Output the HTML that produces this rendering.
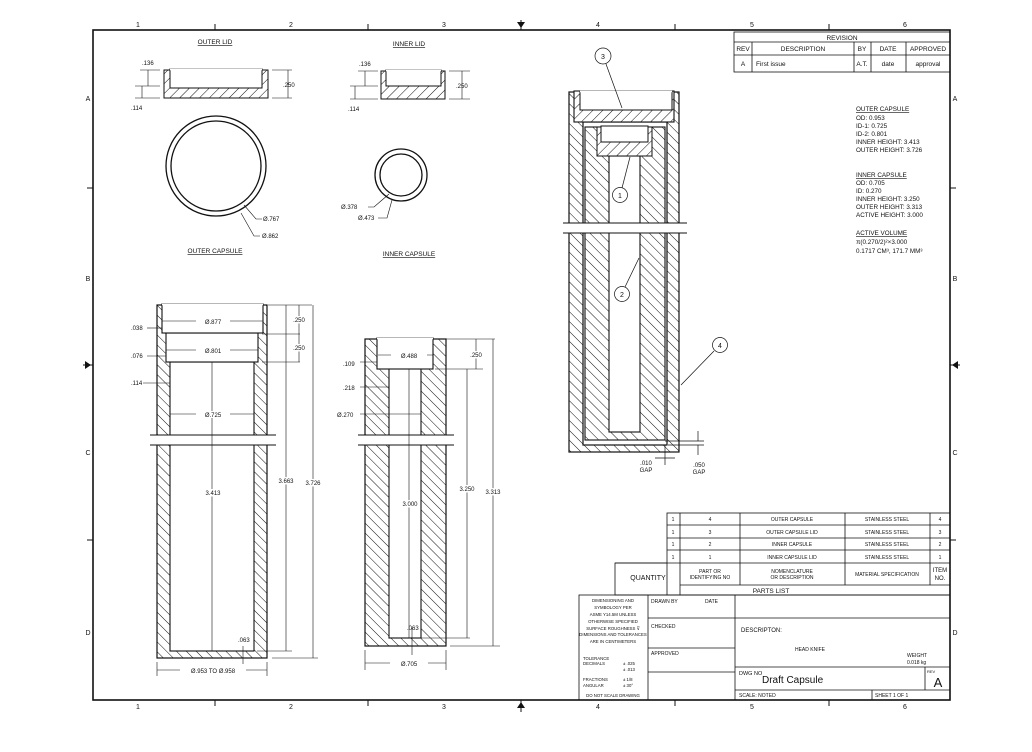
<!DOCTYPE html>
<html><head><meta charset="utf-8"><style>
body{margin:0;background:#fff}
svg{display:block}
text{font-family:"Liberation Sans",sans-serif;fill:#111}
</style></head><body>
<svg width="1032" height="752" viewBox="0 0 1032 752" xmlns="http://www.w3.org/2000/svg">
<defs>
<pattern id="hf" width="7" height="7" patternUnits="userSpaceOnUse" patternTransform="rotate(45)"><rect width="7" height="7" fill="#fff"/><line x1="0" y1="0" x2="0" y2="7" stroke="#111" stroke-width="1"/></pattern>
<pattern id="hb" width="7" height="7" patternUnits="userSpaceOnUse" patternTransform="rotate(-45)"><rect width="7" height="7" fill="#fff"/><line x1="0" y1="0" x2="0" y2="7" stroke="#111" stroke-width="1"/></pattern>
</defs>
<rect width="1032" height="752" fill="#fff"/>
<rect x="93" y="30" width="857" height="670" fill="none" stroke="#111" stroke-width="1.6"/>
<g font-size="7" text-anchor="middle">
<text x="138" y="27">1</text><text x="291" y="27">2</text><text x="444" y="27">3</text><text x="598" y="27">4</text><text x="752" y="27">5</text><text x="905" y="27">6</text>
<text x="138" y="709">1</text><text x="291" y="709">2</text><text x="444" y="709">3</text><text x="598" y="709">4</text><text x="752" y="709">5</text><text x="905" y="709">6</text>
<text x="88" y="101">A</text><text x="88" y="281">B</text><text x="88" y="455">C</text><text x="88" y="635">D</text>
<text x="955" y="101">A</text><text x="955" y="281">B</text><text x="955" y="455">C</text><text x="955" y="635">D</text>
</g>
<g stroke="#111" stroke-width="1">
<line x1="215" y1="24" x2="215" y2="30"/><line x1="368" y1="24" x2="368" y2="30"/><line x1="675" y1="24" x2="675" y2="30"/><line x1="829" y1="24" x2="829" y2="30"/>
<line x1="215" y1="700" x2="215" y2="706"/><line x1="368" y1="700" x2="368" y2="706"/><line x1="675" y1="700" x2="675" y2="706"/><line x1="829" y1="700" x2="829" y2="706"/>
<line x1="87" y1="188" x2="93" y2="188"/><line x1="87" y1="540" x2="93" y2="540"/><line x1="950" y1="188" x2="956" y2="188"/><line x1="950" y1="540" x2="956" y2="540"/>
<line x1="521" y1="20" x2="521" y2="30"/><line x1="521" y1="700" x2="521" y2="712"/><line x1="83" y1="365" x2="93" y2="365"/><line x1="950" y1="365" x2="960" y2="365"/>
</g>
<polygon points="517,22 525,22 521,28" fill="#111"/><polygon points="517,708 525,708 521,702" fill="#111"/>
<polygon points="85,361 85,369 91,365" fill="#111"/><polygon points="958,361 958,369 952,365" fill="#111"/>

<g stroke="#111" stroke-width="0.8" fill="none">
<rect x="734" y="32" width="216" height="40"/>
<line x1="734" y1="42" x2="950" y2="42"/><line x1="734" y1="55" x2="950" y2="55"/>
<line x1="752" y1="42" x2="752" y2="72"/><line x1="854" y1="42" x2="854" y2="72"/><line x1="871" y1="42" x2="871" y2="72"/><line x1="906" y1="42" x2="906" y2="72"/>
</g>
<g font-size="6.5" text-anchor="middle">
<text x="842" y="40">REVISION</text><text x="743" y="51">REV</text><text x="803" y="51">DESCRIPTION</text><text x="862" y="51">BY</text><text x="888" y="51">DATE</text><text x="928" y="51">APPROVED</text>
<text x="743" y="66">A</text><text x="862" y="66">A.T.</text><text x="888" y="66">date</text><text x="928" y="66">approval</text>
</g>
<text x="756" y="66" font-size="6.5">First issue</text>

<text x="215" y="44" font-size="6.5" text-anchor="middle" text-decoration="underline">OUTER LID</text>
<rect x="164" y="70" width="104" height="28" fill="url(#hf)" stroke="#111"/>
<rect x="170" y="69" width="92" height="19" fill="#fff" stroke="#111"/>
<line x1="170" y1="69.5" x2="262" y2="69.5" stroke="#fff" stroke-width="1.5"/>
<g stroke="#111" stroke-width="0.6" fill="none">
<line x1="140" y1="70" x2="160" y2="70"/><line x1="135" y1="86" x2="160" y2="86"/><line x1="135" y1="98" x2="160" y2="98"/>
<line x1="148" y1="70" x2="148" y2="86"/><line x1="142" y1="86" x2="142" y2="98"/>
<line x1="272" y1="70" x2="292" y2="70"/><line x1="272" y1="98" x2="292" y2="98"/><line x1="288" y1="70" x2="288" y2="98"/>
</g>
<text x="142" y="65" font-size="6">.136</text><text x="131" y="110" font-size="6">.114</text><text x="283" y="87" font-size="6">.250</text>

<text x="409" y="46" font-size="6.5" text-anchor="middle" text-decoration="underline">INNER LID</text>
<rect x="381" y="71" width="64" height="28" fill="url(#hf)" stroke="#111"/>
<rect x="386" y="70" width="55" height="16" fill="#fff" stroke="#111"/>
<line x1="386" y1="70.5" x2="441" y2="70.5" stroke="#fff" stroke-width="1.5"/>
<g stroke="#111" stroke-width="0.6" fill="none">
<line x1="358" y1="71" x2="378" y2="71"/><line x1="350" y1="86" x2="378" y2="86"/><line x1="350" y1="99" x2="378" y2="99"/>
<line x1="365" y1="71" x2="365" y2="86"/><line x1="355" y1="86" x2="355" y2="99"/>
<line x1="449" y1="71" x2="470" y2="71"/><line x1="449" y1="99" x2="470" y2="99"/><line x1="462" y1="71" x2="462" y2="99"/>
</g>
<text x="359" y="66" font-size="6">.136</text><text x="348" y="111" font-size="6">.114</text><text x="456" y="88" font-size="6">.250</text>

<circle cx="216" cy="166" r="50" fill="none" stroke="#111" stroke-width="1.3"/>
<circle cx="216" cy="166" r="45" fill="none" stroke="#111" stroke-width="1.3"/>
<polyline points="244,205 256,219 262,219" fill="none" stroke="#111" stroke-width="0.6"/>
<polyline points="241,213 254,236 260,236" fill="none" stroke="#111" stroke-width="0.6"/>
<text x="263" y="221" font-size="6">Ø.767</text><text x="262" y="238" font-size="6">Ø.862</text>
<text x="215" y="253" font-size="6.5" text-anchor="middle" text-decoration="underline">OUTER CAPSULE</text>
<circle cx="401" cy="175" r="26" fill="none" stroke="#111" stroke-width="1.3"/>
<circle cx="401" cy="175" r="21" fill="none" stroke="#111" stroke-width="1.3"/>
<polyline points="389,194 374,207 368,207" fill="none" stroke="#111" stroke-width="0.6"/>
<polyline points="392,200 387,218 378,218" fill="none" stroke="#111" stroke-width="0.6"/>
<text x="341" y="209" font-size="6">Ø.378</text><text x="358" y="220" font-size="6">Ø.473</text>
<text x="409" y="256" font-size="6.5" text-anchor="middle" text-decoration="underline">INNER CAPSULE</text>

<rect x="157" y="305" width="110" height="353" fill="url(#hb)" stroke="#111" stroke-width="1.2"/>
<rect x="170" y="362" width="84" height="289" fill="#fff" stroke="#111" stroke-width="1.1"/>
<rect x="166" y="333" width="92" height="29" fill="#fff" stroke="#111" stroke-width="1.1"/>
<rect x="162" y="304" width="101" height="29" fill="#fff" stroke="#111" stroke-width="1.1"/>
<line x1="162" y1="304.5" x2="263" y2="304.5" stroke="#fff" stroke-width="1.5"/>
<rect x="150" y="435" width="126" height="10" fill="#fff"/>
<line x1="150" y1="435" x2="276" y2="435" stroke="#111"/><line x1="150" y1="445" x2="276" y2="445" stroke="#111"/>
<g stroke="#111" stroke-width="0.6" fill="none">
<line x1="162" y1="321" x2="263" y2="321"/><line x1="166" y1="350" x2="258" y2="350"/><line x1="170" y1="414" x2="254" y2="414"/>
<line x1="212" y1="362" x2="212" y2="651"/>
<line x1="157" y1="670" x2="267" y2="670"/><line x1="157" y1="662" x2="157" y2="676"/><line x1="267" y1="662" x2="267" y2="676"/>
<line x1="268" y1="305" x2="312" y2="305"/><line x1="262" y1="334" x2="300" y2="334"/><line x1="262" y1="362" x2="300" y2="362"/>
<line x1="257" y1="651" x2="292" y2="651"/><line x1="272" y1="658" x2="318" y2="658"/>
<line x1="299" y1="305" x2="299" y2="362"/><line x1="286" y1="305" x2="286" y2="651"/><line x1="313" y1="305" x2="313" y2="658"/>
<line x1="243" y1="646" x2="243" y2="664"/>
<line x1="147" y1="328" x2="162" y2="328"/><line x1="147" y1="356" x2="166" y2="356"/><line x1="143" y1="383" x2="170" y2="383"/>
</g>
<rect x="196" y="318" width="34" height="7" fill="#fff"/><text x="213" y="324" font-size="6" text-anchor="middle">Ø.877</text>
<rect x="196" y="347" width="34" height="7" fill="#fff"/><text x="213" y="353" font-size="6" text-anchor="middle">Ø.801</text>
<rect x="196" y="411" width="34" height="7" fill="#fff"/><text x="213" y="417" font-size="6" text-anchor="middle">Ø.725</text>
<rect x="180" y="667" width="66" height="7" fill="#fff"/><text x="213" y="673" font-size="6" text-anchor="middle">Ø.953 TO Ø.958</text>
<text x="213" y="495" font-size="6" text-anchor="middle" style="paint-order:stroke" stroke="#fff" stroke-width="3">3.413</text>
<text x="286" y="483" font-size="6" text-anchor="middle" style="paint-order:stroke" stroke="#fff" stroke-width="3">3.663</text>
<text x="313" y="485" font-size="6" text-anchor="middle" style="paint-order:stroke" stroke="#fff" stroke-width="3">3.726</text>
<text x="299" y="322" font-size="6" text-anchor="middle" style="paint-order:stroke" stroke="#fff" stroke-width="3">.250</text>
<text x="299" y="350" font-size="6" text-anchor="middle" style="paint-order:stroke" stroke="#fff" stroke-width="3">.250</text>
<text x="131" y="330" font-size="6">.038</text><text x="131" y="358" font-size="6">.076</text><text x="131" y="385" font-size="6">.114</text>
<text x="238" y="642" font-size="6">.063</text>

<rect x="365" y="339" width="81" height="307" fill="url(#hb)" stroke="#111" stroke-width="1.2"/>
<rect x="389" y="368" width="32" height="270" fill="#fff" stroke="#111" stroke-width="1.1"/>
<rect x="377" y="338" width="56" height="31" fill="#fff" stroke="#111" stroke-width="1.1"/>
<line x1="377" y1="338.5" x2="433" y2="338.5" stroke="#fff" stroke-width="1.5"/>
<rect x="358" y="435" width="96" height="10" fill="#fff"/>
<line x1="358" y1="435" x2="454" y2="435" stroke="#111"/><line x1="358" y1="445" x2="454" y2="445" stroke="#111"/>
<g stroke="#111" stroke-width="0.6" fill="none">
<line x1="378" y1="355" x2="433" y2="355"/><line x1="409" y1="369" x2="409" y2="638"/>
<line x1="365" y1="663" x2="446" y2="663"/><line x1="365" y1="650" x2="365" y2="670"/><line x1="446" y1="650" x2="446" y2="670"/>
<line x1="446" y1="339" x2="495" y2="339"/><line x1="435" y1="369" x2="483" y2="369"/>
<line x1="420" y1="638" x2="470" y2="638"/><line x1="450" y1="646" x2="500" y2="646"/>
<line x1="476" y1="339" x2="476" y2="369"/><line x1="467" y1="369" x2="467" y2="638"/><line x1="493" y1="339" x2="493" y2="646"/>
<line x1="412" y1="628" x2="412" y2="655"/>
<line x1="360" y1="362" x2="377" y2="362"/><line x1="360" y1="387" x2="389" y2="387"/><line x1="360" y1="414" x2="421" y2="414"/>
</g>
<rect x="391" y="352" width="36" height="7" fill="#fff"/><text x="409" y="358" font-size="6" text-anchor="middle">Ø.488</text>
<rect x="390" y="660" width="38" height="7" fill="#fff"/><text x="409" y="666" font-size="6" text-anchor="middle">Ø.705</text>
<text x="410" y="506" font-size="6" text-anchor="middle" style="paint-order:stroke" stroke="#fff" stroke-width="3">3.000</text>
<text x="467" y="491" font-size="6" text-anchor="middle" style="paint-order:stroke" stroke="#fff" stroke-width="3">3.250</text>
<text x="493" y="494" font-size="6" text-anchor="middle" style="paint-order:stroke" stroke="#fff" stroke-width="3">3.313</text>
<text x="476" y="357" font-size="6" text-anchor="middle" style="paint-order:stroke" stroke="#fff" stroke-width="3">.250</text>
<text x="343" y="366" font-size="6">.109</text><text x="343" y="390" font-size="6">.218</text><text x="337" y="417" font-size="6">Ø.270</text>
<text x="407" y="630" font-size="6">.063</text>

<rect x="569" y="92" width="110" height="360" fill="url(#hb)" stroke="#111" stroke-width="1.2"/>
<rect x="583" y="122" width="84" height="323" fill="#fff" stroke="#111" stroke-width="1.2"/>
<rect x="574" y="91" width="100" height="31" fill="url(#hf)" stroke="#111" stroke-width="1.1"/>
<rect x="580" y="91" width="92" height="19" fill="#fff" stroke="#111" stroke-width="1"/>
<line x1="580" y1="91.5" x2="672" y2="91.5" stroke="#fff" stroke-width="1.5"/>
<rect x="585" y="127" width="80" height="313" fill="url(#hb)" stroke="#111" stroke-width="1.1"/>
<rect x="609" y="156" width="31" height="276" fill="#fff" stroke="#111" stroke-width="1.1"/>
<rect x="597" y="127" width="55" height="29" fill="url(#hf)" stroke="#111" stroke-width="1"/>
<rect x="601" y="126" width="47" height="16" fill="#fff" stroke="#111" stroke-width="1"/>
<rect x="563" y="223" width="124" height="10" fill="#fff"/>
<line x1="563" y1="223" x2="687" y2="223" stroke="#111"/><line x1="563" y1="233" x2="687" y2="233" stroke="#111"/>
<g stroke="#111" stroke-width="0.7" fill="none">
<circle cx="603" cy="56" r="8"/><line x1="606" y1="64" x2="622" y2="108"/>
<circle cx="620" cy="195" r="7.5"/><line x1="622" y1="188" x2="630" y2="157"/>
<circle cx="622" cy="294" r="7.5"/><line x1="625" y1="287" x2="639" y2="258"/>
<circle cx="720" cy="345" r="7.5"/><line x1="714" y1="351" x2="681" y2="385"/>
<line x1="665" y1="441" x2="704" y2="441"/><line x1="668" y1="445" x2="704" y2="445"/>
<line x1="698" y1="431" x2="698" y2="441"/><line x1="698" y1="445" x2="698" y2="455"/>
<line x1="665" y1="445" x2="665" y2="465"/><line x1="655" y1="458" x2="675" y2="458"/>
</g>
<g font-size="7" text-anchor="middle"><text x="603" y="59">3</text><text x="620" y="198">1</text><text x="622" y="297">2</text><text x="720" y="348">4</text></g>
<g font-size="6" text-anchor="middle"><text x="646" y="465">.010</text><text x="646" y="472">GAP</text><text x="699" y="467">.050</text><text x="699" y="474">GAP</text></g>

<g font-size="6.3">
<text x="856" y="111" text-decoration="underline">OUTER CAPSULE</text>
<text x="856" y="120">OD:   0.953</text><text x="856" y="128">ID-1:  0.725</text><text x="856" y="136">ID-2:  0.801</text>
<text x="856" y="144">INNER HEIGHT:   3.413</text><text x="856" y="152">OUTER HEIGHT:   3.726</text>
<text x="856" y="177" text-decoration="underline">INNER CAPSULE</text>
<text x="856" y="185">OD:   0.705</text><text x="856" y="193">ID:    0.270</text>
<text x="856" y="201">INNER HEIGHT:    3.250</text><text x="856" y="209">OUTER HEIGHT:   3.313</text><text x="856" y="217">ACTIVE HEIGHT:   3.000</text>
<text x="856" y="235" text-decoration="underline">ACTIVE VOLUME</text>
<text x="856" y="244">π(0.270/2)²×3.000</text><text x="856" y="253">0.1717 CM³, 171.7 MM³</text>
</g>

<g stroke="#111" stroke-width="0.8" fill="none">
<rect x="667" y="513" width="283" height="82"/>
<line x1="667" y1="525" x2="950" y2="525"/><line x1="667" y1="538" x2="950" y2="538"/><line x1="667" y1="550" x2="950" y2="550"/><line x1="615" y1="563" x2="950" y2="563"/><line x1="680" y1="585" x2="950" y2="585"/>
<line x1="680" y1="513" x2="680" y2="595"/><line x1="740" y1="513" x2="740" y2="585"/><line x1="845" y1="513" x2="845" y2="585"/><line x1="930" y1="513" x2="930" y2="585"/>
<polyline points="667,563 615,563 615,595 667,595"/>
<rect x="579" y="595" width="371" height="105"/>
<line x1="648" y1="595" x2="648" y2="700"/><line x1="735" y1="595" x2="735" y2="700"/>
<line x1="648" y1="618" x2="735" y2="618"/><line x1="648" y1="648" x2="735" y2="648"/><line x1="648" y1="672" x2="735" y2="672"/>
<line x1="735" y1="618" x2="950" y2="618"/><line x1="735" y1="667" x2="950" y2="667"/><line x1="735" y1="690" x2="950" y2="690"/>
<line x1="925" y1="667" x2="925" y2="690"/><line x1="872" y1="690" x2="872" y2="700"/>
</g>
<g font-size="5" text-anchor="middle">
<text x="673" y="521">1</text><text x="710" y="521">4</text><text x="792" y="521">OUTER CAPSULE</text><text x="887" y="521">STAINLESS STEEL</text><text x="940" y="521">4</text>
<text x="673" y="534">1</text><text x="710" y="534">3</text><text x="792" y="534">OUTER CAPSULE LID</text><text x="887" y="534">STAINLESS STEEL</text><text x="940" y="534">3</text>
<text x="673" y="546">1</text><text x="710" y="546">2</text><text x="792" y="546">INNER CAPSULE</text><text x="887" y="546">STAINLESS STEEL</text><text x="940" y="546">2</text>
<text x="673" y="559">1</text><text x="710" y="559">1</text><text x="792" y="559">INNER CAPSULE LID</text><text x="887" y="559">STAINLESS STEEL</text><text x="940" y="559">1</text>
<text x="710" y="573">PART OR</text><text x="710" y="579">IDENTIFYING NO</text>
<text x="792" y="573">NOMENCLATURE</text><text x="792" y="579">OR DESCRIPTION</text>
<text x="887" y="576">MATERIAL SPECIFICATION</text>
<text x="940" y="572" font-size="6">ITEM</text><text x="940" y="580" font-size="6">NO.</text>
</g>
<text x="648" y="580" font-size="7" text-anchor="middle">QUANTITY</text>
<text x="771" y="593" font-size="6.5" text-anchor="middle">PARTS LIST</text>
<g font-size="4.3" text-anchor="middle">
<text x="613" y="602">DIMENSIONING AND</text><text x="613" y="609">SYMBOLOGY PER</text><text x="613" y="616">ASME Y14.5M UNLESS</text><text x="613" y="623">OTHERWISE SPECIFIED</text><text x="613" y="630">SURFACE ROUGHNESS ⊽</text><text x="613" y="636">DIMENSIONS AND TOLERANCES</text><text x="613" y="643">ARE IN CENTIMETERS</text>
<text x="613" y="697">DO NOT SCALE DRAWING</text>
</g>
<g font-size="4.3">
<text x="583" y="660">TOLERANCE</text><text x="583" y="665">DECIMALS</text><text x="623" y="665">±  .025</text><text x="623" y="671">±  .013</text>
<text x="583" y="681">FRACTIONS</text><text x="583" y="687">ANGULAR</text><text x="623" y="681">± 1/8</text><text x="623" y="687">± 30°</text>
</g>
<g font-size="5">
<text x="651" y="603">DRAWN BY</text><text x="705" y="603">DATE</text><text x="651" y="628">CHECKED</text><text x="651" y="655">APPROVED</text>
<text x="741" y="632" font-size="6">DESCRIPTON:</text>
<text x="810" y="651" text-anchor="middle">HEAD KNIFE</text>
<text x="907" y="657">WEIGHT</text><text x="907" y="664">0.018 kg</text>
<text x="739" y="675" font-size="5.5">DWG NO</text>
<text x="739" y="697">SCALE: NOTED</text><text x="875" y="697">SHEET    1    OF    1</text>
<text x="927" y="673" font-size="4">REV</text>
</g>
<text x="762" y="683" font-size="10">Draft Capsule</text>
<text x="938" y="687" font-size="13" text-anchor="middle">A</text>
</svg>
</body></html>
